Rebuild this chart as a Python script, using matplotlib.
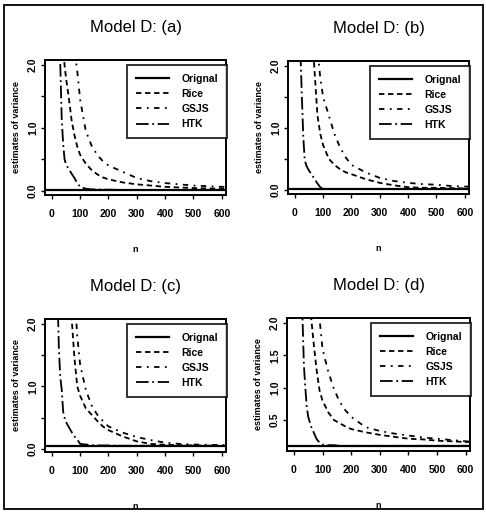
import matplotlib
matplotlib.use("Agg")
import matplotlib.pyplot as plt
from matplotlib.patches import Rectangle

plt.rcParams["font.family"] = ["Liberation Sans", "DejaVu Sans"]

# sample sizes
n = [20, 25, 30, 35, 40, 45, 50, 60, 70, 80, 90, 100, 120, 140, 160, 180, 200,
     250, 300, 350, 400, 450, 500, 550, 600, 620]

panels = ["(a)", "(b)", "(c)", "(d)"]
true_var = [0.01, 0.01, 0.05, 0.1]

htk_a = [5.0, 3.2, 2.0, 1.15, 0.75, 0.5, 0.42, 0.34, 0.27, 0.2, 0.12, 0.06, 0.03,
         0.02, 0.02, 0.015, 0.015, 0.01, 0.01, 0.01, 0.01, 0.01, 0.01, 0.01, 0.01, 0.01]
rice_a = [6.0, 4.5, 3.4, 2.7, 2.3, 2.0, 1.8, 1.48, 1.12, 0.88, 0.7, 0.57, 0.43,
          0.33, 0.26, 0.21, 0.18, 0.13, 0.1, 0.08, 0.06, 0.05, 0.04, 0.035, 0.03, 0.03]
gsjs_a = [12, 9, 7, 5.8, 5, 4.3, 3.8, 3.1, 2.6, 2.25, 1.9, 1.45, 0.95,
          0.72, 0.57, 0.47, 0.4, 0.3, 0.2, 0.15, 0.12, 0.1, 0.08, 0.07, 0.06, 0.06]

htk_b = [2.2, 1.5, 0.85, 0.48, 0.4, 0.35, 0.31, 0.24, 0.17, 0.1, 0.04, 0.01, 0.01,
         0.01, 0.01, 0.01, 0.01, 0.01, 0.01, 0.01, 0.01, 0.01, 0.01, 0.01, 0.01, 0.01]
rice_b = [20, 14, 10, 8, 6.5, 5.2, 4.0, 2.6, 1.9, 1.2, 0.9, 0.72, 0.5,
          0.4, 0.33, 0.28, 0.25, 0.17, 0.11, 0.07, 0.04, 0.03, 0.03, 0.025, 0.02, 0.02]
gsjs_b = [10, 9, 8, 7, 6.5, 5.5, 4.8, 3.5, 2.8, 2.3, 1.8, 1.5, 1.2,
          0.9, 0.68, 0.52, 0.4, 0.28, 0.19, 0.14, 0.11, 0.09, 0.08, 0.06, 0.05, 0.05]

htk_c = [2.5, 1.6, 1.15, 0.95, 0.6, 0.5, 0.43, 0.35, 0.27, 0.2, 0.15, 0.08, 0.07,
         0.06, 0.055, 0.055, 0.055, 0.05, 0.05, 0.05, 0.05, 0.05, 0.05, 0.05, 0.05, 0.05]
rice_c = [15, 12, 8, 6.5, 5, 4.2, 3.5, 2.6, 2.1, 1.45, 1.0, 0.85, 0.65,
          0.55, 0.45, 0.36, 0.3, 0.2, 0.12, 0.08, 0.065, 0.058, 0.055, 0.05, 0.05, 0.05]
gsjs_c = [12, 10, 8, 7, 6, 5.4, 4.8, 4.0, 3.2, 2.5, 1.8, 1.35, 0.95,
          0.7, 0.55, 0.45, 0.36, 0.26, 0.19, 0.14, 0.1, 0.08, 0.07, 0.065, 0.06, 0.06]

htk_d = [4, 2.8, 2.1, 1.35, 1.0, 0.7, 0.55, 0.4, 0.3, 0.2, 0.15, 0.12, 0.11,
         0.11, 0.1, 0.1, 0.1, 0.1, 0.1, 0.1, 0.1, 0.1, 0.1, 0.1, 0.1, 0.1]
rice_d = [8, 6.5, 5, 4.2, 3.5, 3.0, 2.6, 2.1, 1.65, 1.25, 0.95, 0.8, 0.62,
          0.5, 0.45, 0.4, 0.36, 0.31, 0.27, 0.24, 0.21, 0.2, 0.18, 0.17, 0.16, 0.16]
gsjs_d = [12, 10, 8, 7, 6, 5.4, 4.8, 3.9, 3.1, 2.5, 2.05, 1.6, 1.25,
          0.98, 0.78, 0.65, 0.55, 0.39, 0.33, 0.29, 0.26, 0.23, 0.21, 0.19, 0.17, 0.17]

rice = [rice_a, rice_b, rice_c, rice_d]
gsjs = [gsjs_a, gsjs_b, gsjs_c, gsjs_d]
htk = [htk_a, htk_b, htk_c, htk_d]

W, H = 486, 519
fig = plt.figure(figsize=(W / 100, H / 100), dpi=100)

# axes boxes in pixels: left, right, top, bottom
boxes = [(45, 226, 60, 195), (288, 469, 61, 194),
         (45, 226, 319, 452), (287, 470, 318, 451)]
ylims = [(-0.07, 2.08), (-0.07, 2.08), (-0.05, 2.08), (0.02, 2.08)]

for i, (l, r, t, b) in enumerate(boxes):
    ax = fig.add_axes([l / W, 1 - b / H, (r - l) / W, (b - t) / H])
    ax.axhline(true_var[i], color="black", lw=1.6, label="Orignal")
    ax.plot(n, rice[i], color="black", lw=1.3, dashes=(3, 2), label="Rice")
    ax.plot(n, gsjs[i], color="black", lw=1.3, dashes=(3, 3, 1, 3), label="GSJS")
    ax.plot(n, htk[i], color="black", lw=1.3, dashes=(7, 2, 1, 2), label="HTK")

    ax.set_xlim(-24, 615)
    ax.set_ylim(*ylims[i])
    ax.set_xticks([0, 100, 200, 300, 400, 500, 600])
    ax.set_xticklabels(["0", "100", "200", "300", "400", "500", "600"],
                       fontsize=7.5, fontweight="bold")
    if i == 3:
        ax.set_yticks([0.5, 1.0, 1.5, 2.0])
        ax.set_yticklabels(["0.5", "1.0", "1.5", "2.0"])
    else:
        ax.set_yticks([0.0, 0.5, 1.0, 1.5, 2.0])
        ax.set_yticklabels(["0.0", "", "1.0", "", "2.0"])
    for lab in ax.get_yticklabels():
        lab.set_rotation(90)
        lab.set_va("center")
        lab.set_fontsize(7.5)
        lab.set_fontweight("bold")
    ax.tick_params(direction="out", length=3, width=1)
    ax.tick_params(axis="x", pad=7)
    ax.tick_params(axis="y", pad=2)
    for sp in ax.spines.values():
        sp.set_linewidth(1.4)

    ax.set_xlabel("n", fontsize=6.5, fontweight="bold", labelpad=19)
    ax.set_ylabel("estimates of variance", fontsize=6.5, fontweight="bold", labelpad=5)
    ax.set_title("Model D: " + panels[i], fontsize=12, pad=20)

    leg = ax.legend(loc="upper right", bbox_to_anchor=(1.005, 0.965),
                    prop={"weight": "bold", "size": 7.5}, frameon=True,
                    fancybox=False, handlelength=3.2, handletextpad=1.2,
                    labelspacing=0.5, borderpad=0.85, borderaxespad=0)
    leg.get_frame().set_edgecolor("black")
    leg.get_frame().set_linewidth(1.4)

# outer frame
fig.patches.append(Rectangle((4 / W, 1 - 509 / H), 479 / W, 504 / H,
                             transform=fig.transFigure, fill=False,
                             edgecolor="black", lw=1.3))

fig.savefig("out.png", dpi=100)
